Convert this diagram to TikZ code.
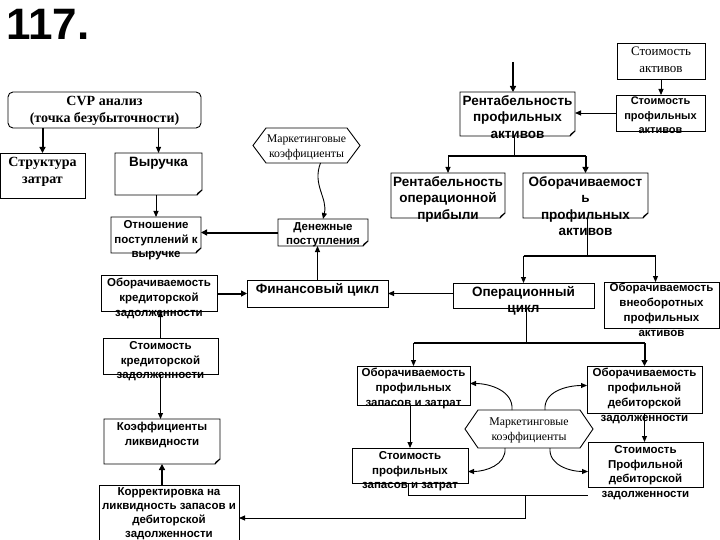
\documentclass[tikz,border=0pt]{standalone}
\usepackage{fontspec}
\setmainfont{Liberation Serif}
\setsansfont{Liberation Sans}
\usetikzlibrary{arrows.meta}
\newcommand\fa{\sffamily\bfseries\fontsize{13.5}{16.5}\selectfont}
\newcommand\fb{\sffamily\bfseries\fontsize{11.5}{14.8}\selectfont}
\newcommand\fbk{\sffamily\bfseries\fontsize{11.5}{14.2}\selectfont}
\newcommand\fsp{\sffamily\bfseries\fontsize{11}{14.5}\selectfont}
\newcommand\fsa{\rmfamily\bfseries\fontsize{14}{17}\selectfont}
\newcommand\fsm{\rmfamily\fontsize{11.8}{15}\selectfont}
\newcommand\mkbox[5]{\node[bx, minimum width={#4pt-#2pt}, minimum height={#5pt-#3pt}] (#1) at ({(#2+#4)/2},{(#3+#5)/2}) {};}
\newcommand\rbox[1]{\draw[boxline] (#1.north west) rectangle (#1.south east);}
\newcommand\foldbox[1]{\draw[boxline] (#1.north west) -- (#1.north east) -- ([yshift=5pt]#1.south east) -- ([xshift=-5pt]#1.south east) -- (#1.south west) -- cycle;
  \draw[boxline] ([yshift=5pt]#1.south east) -- ([shift={(-4pt,2pt)}]#1.south east) -- ([xshift=-5pt]#1.south east);}
\newcommand\hexbox[1]{\draw[boxline] (#1.west) -- ([xshift=13pt]#1.north west) -- ([xshift=-13pt]#1.north east) -- (#1.east) -- ([xshift=-13pt]#1.south east) -- ([xshift=13pt]#1.south west) -- cycle;}
\begin{document}
\begin{tikzpicture}[x=1pt,y=-1pt,
  bx/.style={draw=none, inner sep=0pt, outer sep=0pt},
  txt/.style={inner sep=0pt, align=center, anchor=north},
  boxline/.style={line width=0.9pt},
  ln/.style={line width=0.9pt},
  thk/.style={line width=2pt},
  arr/.style={-{Triangle[length=6pt,width=5pt]}, line width=0.9pt},
  tarr/.style={-{Triangle[length=6pt,width=6pt]}, line width=2pt}]
\fill[white] (0,0) rectangle (720,540);
\useasboundingbox (0,0) rectangle (720,540);

\node[txt, anchor=north west, font=\sffamily\bfseries\fontsize{44}{44}\selectfont] (title) at (6,9) {117.};

% boxes
\mkbox{cvp}{8}{92}{201}{128}
\draw[boxline, rounded corners=5pt] (cvp.north west) rectangle (cvp.south east);
\node[txt, font=\fsa] (cvp-t) at ([yshift=-4pt]cvp.north) {CVP анализ\\(точка безубыточности)};

\mkbox{st}{0}{153}{85}{198}\rbox{st}
\node[txt, font=\fsa] (st-t) at ([yshift=-4pt]st.north) {Структура\\затрат};

\mkbox{vy}{115}{153}{202}{195}\foldbox{vy}
\node[txt, font=\fa] (vy-t) at ([yshift=-4pt]vy.north) {Выручка};

\mkbox{mk1}{253}{128}{360}{163}\hexbox{mk1}
\node[txt, font=\fsm] (mk1-t) at ([yshift=-7pt]mk1.north) {Маркетинговые\\коэффициенты};

\mkbox{rpa}{460}{92}{575}{136}\foldbox{rpa}
\node[txt, font=\fa] (rpa-t) at ([yshift=-3pt]rpa.north) {Рентабельность\\профильных\\активов};

\mkbox{sa}{617}{43}{705}{79}\rbox{sa}
\node[txt, font=\rmfamily\fontsize{13}{17}\selectfont] (sa-t) at ([yshift=-4pt]sa.north) {Стоимость\\активов};

\mkbox{spa}{616}{95}{705}{131}\rbox{spa}
\node[txt, font=\fsp] (spa-t) at ([yshift=-2pt]spa.north) {Стоимость\\профильных\\активов};

\mkbox{ro}{391}{173}{505}{218}\foldbox{ro}
\node[txt, font=\fa] (ro-t) at ([yshift=-3pt]ro.north) {Рентабельность\\операционной\\прибыли};

\mkbox{op}{523}{173}{648}{218}\foldbox{op}
\node[txt, font=\fa] (op-t) at ([yshift=-3pt]op.north) {Оборачиваемост\\ь\\профильных\\активов};

\mkbox{ot}{111}{217}{201}{253}\foldbox{ot}
\node[txt, font=\fb] (ot-t) at ([yshift=-3pt]ot.north) {Отношение\\поступлений к\\выручке};

\mkbox{dp}{278}{219}{368}{246}\foldbox{dp}
\node[txt, font=\fb] (dp-t) at ([yshift=-3pt]dp.north) {Денежные\\поступления};

\mkbox{ok}{101}{275}{217}{311}\rbox{ok}
\node[txt, font=\fb] (ok-t) at ([yshift=-3pt]ok.north) {Оборачиваемость\\кредиторской\\задолженности};

\mkbox{fc}{247}{280}{388}{307}\rbox{fc}
\node[txt, font=\fa] (fc-t) at ([yshift=-3pt]fc.north) {Финансовый цикл};

\mkbox{oc}{453}{283}{594}{308}\rbox{oc}
\node[txt, font=\fa] (oc-t) at ([yshift=-3pt]oc.north) {Операционный\\цикл};

\mkbox{vo}{604}{282}{719}{328}\rbox{vo}
\node[txt, font=\fb] (vo-t) at ([yshift=-1pt]vo.north) {Оборачиваемость\\внеоборотных\\профильных\\активов};

\mkbox{sk}{103}{338}{218}{374}\rbox{sk}
\node[txt, font=\fb] (sk-t) at ([yshift=-3pt]sk.north) {Стоимость\\кредиторской\\задолженности};

\mkbox{kl}{104}{419}{220}{464}\foldbox{kl}
\node[txt, font=\fb] (kl-t) at ([yshift=-3pt]kl.north) {Коэффициенты\\ликвидности};

\mkbox{kr}{99}{485}{239}{548}\rbox{kr}
\node[txt, font=\fbk] (kr-t) at ([yshift=-2pt]kr.north) {Корректировка на\\ликвидность запасов и\\дебиторской\\задолженности};

\mkbox{oz}{357}{366}{470}{405}\rbox{oz}
\node[txt, font=\fb] (oz-t) at ([yshift=-2pt]oz.north) {Оборачиваемость\\профильных\\запасов и затрат};

\mkbox{od}{587}{366}{702}{413}\rbox{od}
\node[txt, font=\fb] (od-t) at ([yshift=-2pt]od.north) {Оборачиваемость\\профильной\\дебиторской\\задолженности};

\mkbox{mk2}{465}{410}{593}{448}\hexbox{mk2}
\node[txt, font=\fsm] (mk2-t) at ([yshift=-8pt]mk2.north) {Маркетинговые\\коэффициенты};

\mkbox{sz}{352}{448}{468}{483}\rbox{sz}
\node[txt, font=\fb] (sz-t) at ([yshift=-3pt]sz.north) {Стоимость\\профильных\\запасов и затрат};

\mkbox{sd}{588}{442}{703}{487}\rbox{sd}
\node[txt, font=\fb] (sd-t) at ([yshift=-3pt]sd.north) {Стоимость\\Профильной\\дебиторской\\задолженности};

% connectors
\draw[tarr] (st.north |- cvp.south) -- (st.north);
\draw[arr] (vy.north |- cvp.south) -- (vy.north);
\draw[arr] (ot.north |- vy.south) -- (ot.north);
\draw[arr] ([xshift=14pt]mk1.south) .. controls (312,185) and (328,198) .. (dp.north);
\draw[tarr] (dp.west) -- (dp.west -| ot.east);
\draw[arr] (fc.north) -- (fc.north |- dp.south);
\draw[tarr] (ok.east |- fc.west) -- (fc.west);
\draw[arr] (fc.east -| oc.west) -- (fc.east);
\draw[arr] (sk.north) -- (sk.north |- ok.south);
\draw[arr] (sk.south) -- (sk.south |- kl.north);
\draw[tarr] (kl.south |- kr.north) -- (kl.south);

\coordinate (topin) at (513,62);
\draw[tarr] (topin) -- (topin |- rpa.north);
\draw[arr] (sa.south) -- (sa.south |- spa.north);
\draw[arr] (spa.west) -- (spa.west -| rpa.east);

\coordinate (s1) at (514,156);
\draw[ln] (s1 |- rpa.south) -- (s1);
\draw[thk] (ro.north |- s1) -- (op.north |- s1);
\draw[arr] (ro.north |- s1) -- (ro.north);
\draw[tarr] (op.north |- s1) -- (op.north);

\coordinate (s2) at (587,256);
\draw[ln] (s2 |- op.south) -- (s2);
\draw[thk] (oc.north |- s2) -- ([xshift=-6pt]vo.north |- s2);
\draw[arr] (oc.north |- s2) -- (oc.north);
\draw[arr] ([xshift=-6pt]vo.north |- s2) -- ([xshift=-6pt]vo.north);

\coordinate (s3) at (526,343);
\draw[ln] (s3 |- oc.south) -- (s3);
\draw[thk] (oz.north |- s3) -- (od.north |- s3);
\draw[arr] (oz.north |- s3) -- (oz.north);
\draw[tarr] (od.north |- s3) -- (od.north);

\draw[arr] (sz.north |- oz.south) -- (sz.north);
\draw[arr] (od.south) -- (od.south |- sd.north);

\draw[arr] ([xshift=-17pt]mk2.north) to[out=85,in=0] ([yshift=2pt]oz.east);
\draw[arr] ([xshift=16pt]mk2.north) to[out=95,in=180] ([yshift=4pt]od.west);
\draw[arr] ([xshift=-24pt]mk2.south) to[out=-85,in=0] ([yshift=-6pt]sz.east);
\draw[arr] ([xshift=21pt]mk2.south) to[out=-95,in=180] ([yshift=-7pt]sd.west);

\coordinate (b1) at (408,495);
\coordinate (b2) at (525,495);
\coordinate (b3) at (525,518);
\draw[ln] (b1 |- sz.south) -- (b1) -- (b1 -| sd.west);
\draw[arr] (b2) -- (b3) -- (b3 -| kr.east);
\end{tikzpicture}
\end{document}
